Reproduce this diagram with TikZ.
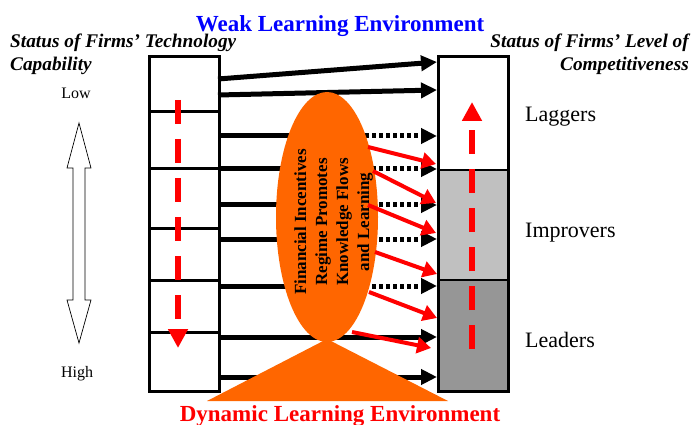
\documentclass[tikz,border=0pt]{standalone}
\usepackage{fontspec}
\setmainfont{Liberation Serif}
\usetikzlibrary{arrows.meta,shapes.geometric}
\definecolor{eggorange}{RGB}{255,102,0}
\definecolor{lgray}{RGB}{192,192,192}
\definecolor{dgray}{RGB}{150,150,150}
\definecolor{tblue}{RGB}{0,0,255}
\definecolor{tred}{RGB}{255,0,0}
\tikzset{
  boxline/.style={line width=3pt, black},
  blackarrow/.style={line width=5pt, black, -{Triangle[length=16pt,width=15pt]}},
  solidpart/.style={line width=5pt, black},
  dotarrow/.style={line width=5pt, black, dash pattern=on 4pt off 3pt, -{Triangle[length=16pt,width=15pt]}},
  redarrow/.style={line width=4pt, tred, -{Triangle[length=14pt,width=16pt]}},
  reddash/.style={line width=6pt, tred, dash pattern=on 24pt off 15pt, -{Triangle[length=19pt,width=19pt]}},
  lbl/.style={inner sep=0pt, font=\fontsize{22}{26}\selectfont},
  head/.style={inner sep=0pt, font=\fontsize{19.3}{23}\selectfont\bfseries\itshape},
  ttl/.style={inner sep=0pt, font=\fontsize{23}{27}\selectfont\bfseries},
  lh/.style={inner sep=0pt, font=\fontsize{16}{19}\selectfont},
}
\begin{document}
\begin{tikzpicture}[x=1pt,y=-1pt]
\useasboundingbox (0,0) rectangle (694,425);
% right box fills
\fill[white] (437,55) rectangle (507,170);
\fill[lgray] (437,170) rectangle (507,280);
\fill[dgray] (437,280) rectangle (507,390);
\draw[line width=1.5pt] (437,170) -- (507,170);
\draw[line width=1.5pt] (437,280) -- (507,280);
\node[draw, boxline, minimum width=70pt, minimum height=335pt, anchor=north west, inner sep=0pt] (rbox) at (437,55) {};
% left box
\node[draw, boxline, minimum width=70pt, minimum height=335pt, anchor=north west, inner sep=0pt] (lbox) at (148,55) {};
\foreach \yy in {112,169,228,280,332} \draw[boxline] (148,\yy) -- (218,\yy);
% black arrows
\draw[blackarrow] (218,79) -- (437,62);
\draw[blackarrow] (218,95) -- (437,90);
\foreach \yy in {136,169,205,239,286}{
  \draw[solidpart] (218,\yy) -- (330,\yy);
  \draw[dotarrow] (330,\yy) -- (437,\yy);
}
\draw[blackarrow] (218,337) -- (437,337);
\draw[blackarrow] (218,377) -- (437,377);
% egg and triangle
\node[ellipse, fill=eggorange, minimum width=102pt, minimum height=250pt, inner sep=0pt] (egg) at (327,217) {};
\fill[eggorange] (327,339) -- (448,401) -- (207,401) -- cycle;
\node[rotate=90, align=center, inner sep=0pt, font=\fontsize{17}{21}\selectfont\bfseries] (eggtxt) at (333.5,222)
  {Financial Incentives\\Regime Promotes\\Knowledge Flows\\and Learning};
% red arrows
\draw[redarrow] (368,147) -- (436,164);
\draw[redarrow] (373,171) -- (436,203);
\draw[redarrow] (368,205) -- (436,233);
\draw[redarrow] (375,252) -- (437,274);
\draw[redarrow] (369,292) -- (437,318);
\draw[redarrow] (352,332) -- (431,348);
% red dashed arrows
\draw[reddash] (178,100) -- (178,348);
\draw[reddash] (472,349) -- (472,102);
% double hollow arrow
\draw[line width=0.7pt, fill=white] (79,123) -- (91,168) -- (85,168) -- (85,300) -- (91,300) -- (79,343) -- (67,300) -- (73,300) -- (73,168) -- (67,168) -- cycle;
% texts
\node[ttl, text=tblue, anchor=base] (weak) at (340,32) {Weak Learning Environment};
\node[ttl, text=tred, anchor=base] (dyn) at (340,421) {Dynamic Learning Environment};
\node[head, anchor=base west] (sl1) at (10,48) {Status of Firms’ Technology};
\node[head, anchor=base west] (sl2) at (10,71) {Capability};
\node[head, anchor=base east] (sr1) at (689,48) {Status of Firms’ Level of};
\node[head, anchor=base east] (sr2) at (689,71) {Competitiveness};
\node[lh, anchor=base] (low) at (76,99) {Low};
\node[lh, anchor=base] (high) at (77,377) {High};
\node[lbl, anchor=base west] (lag) at (525,122) {Laggers};
\node[lbl, anchor=base west] (imp) at (525,237) {Improvers};
\node[lbl, anchor=base west] (lead) at (525,347) {Leaders};
\end{tikzpicture}
\end{document}
